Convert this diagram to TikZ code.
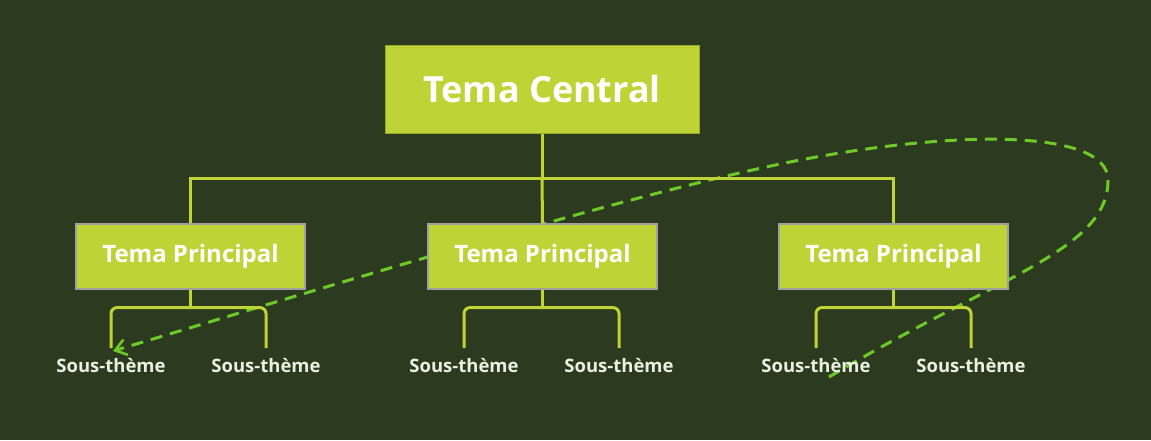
\documentclass[tikz,border=0pt]{standalone}
\usepackage{fontspec}
\setmainfont{Open Sans}
\usetikzlibrary{arrows.meta,calc}
\definecolor{bgc}{HTML}{2C3A1F}
\definecolor{boxc}{HTML}{BED335}
\definecolor{edgec}{HTML}{A0A0A0}
\definecolor{dashc}{HTML}{6EC828}
\definecolor{subc}{HTML}{E8F0E0}
\tikzset{
  centralbox/.style={fill=boxc,draw=boxc!80!black,line width=1pt,minimum width=314pt,minimum height=88pt,inner sep=0pt,text=white,font=\fontsize{36}{42}\selectfont\bfseries},
  princbox/.style={fill=boxc,draw=edgec,line width=1.2pt,minimum width=229pt,minimum height=65pt,inner sep=0pt,text=white,font=\fontsize{24}{28}\selectfont\bfseries},
  subtext/.style={anchor=north,inner sep=0pt,text height=24pt,text depth=4pt,text=subc,font=\fontsize{18.5}{22}\selectfont\bfseries},
  conn/.style={draw=boxc,line width=3pt},
  loopline/.style={draw=dashc,line width=3pt,dash pattern=on 12pt off 8pt,-{Straight Barb[length=11pt,width=16pt,line width=2.6pt]}}
}
\begin{document}
\begin{tikzpicture}[x=1pt,y=-1pt]
\fill[bgc] (0,0) rectangle (1151,440);
\useasboundingbox (0,0) rectangle (1151,440);
% dashed loop (drawn behind boxes)
\node[subtext] (s1) at (111,348) {Sous-thème};
\coordinate (loopstart) at (829,377);
\draw[loopline] (loopstart) .. controls (1000,275) and (1108,250) .. (1108,180)
  .. controls (1108,128) and (950,130) .. (790,162)
  .. controls (620,196) and (300,295) .. ([xshift=2pt,yshift=-3pt]s1.north);
% boxes
\node[centralbox] (c) at (542,89) {\raisebox{-2pt}{Tema Central}};
\node[princbox] (p1) at (190.5,256.5) {Tema Principal};
\node[princbox] (p2) at (542.5,256.5) {Tema Principal};
\node[princbox] (p3) at (893.5,256.5) {Tema Principal};
\node[subtext] (s2) at (266,348) {Sous-thème};
\node[subtext] (s3) at (464,348) {Sous-thème};
\node[subtext] (s4) at (619,348) {Sous-thème};
\node[subtext] (s5) at (816,348) {Sous-thème};
\node[subtext] (s6) at (971,348) {Sous-thème};
% main connectors
\draw[conn] (c.south) -- ($(c.south)+(0,45)$);
\draw[conn] (p1.north) |- ($(c.south)+(0,45)$) -| (p3.north);
\draw[conn] ($(c.south)+(0,45)$) -- (p2.north);
% sub connectors
\foreach \p/\a/\b in {p1/s1/s2,p2/s3/s4,p3/s5/s6}{
  \draw[conn] (\p.south) -- ($(\p.south)+(0,18)$);
  \draw[conn,rounded corners=6pt] (\a.north) |- ($(\p.south)+(0,18)$) -| (\b.north);
}
\end{tikzpicture}
\end{document}
